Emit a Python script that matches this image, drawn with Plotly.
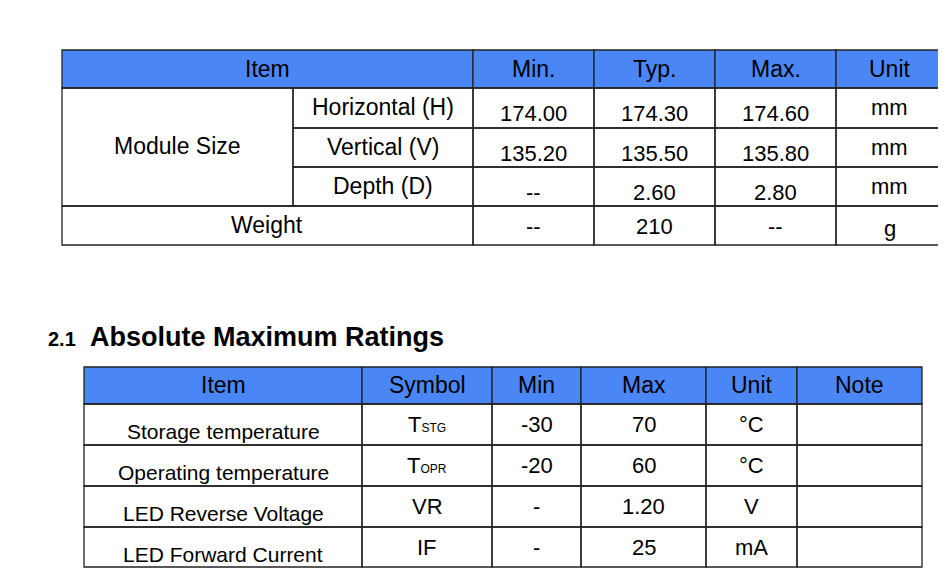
"""Mechanical information and absolute maximum ratings tables."""

import plotly.graph_objects as go

HEADER_BLUE = "#4b86f6"
LINE = "#222222"
FONT = "Liberation Sans, Arial, sans-serif"

# table 1 data
MECH_HEADERS = ["Item", "Min.", "Typ.", "Max.", "Unit"]
MECH_GROUP = "Module Size"
MECH_SUBITEMS = ["Horizontal (H)", "Vertical (V)", "Depth (D)"]
MECH_MIN = ["174.00", "135.20", "--"]
MECH_TYP = ["174.30", "135.50", "2.60"]
MECH_MAX = ["174.60", "135.80", "2.80"]
MECH_UNIT = ["mm", "mm", "mm"]
WEIGHT_ROW = ["Weight", "--", "210", "--", "g"]

# table 2 data
AMR_HEADERS = ["Item", "Symbol", "Min", "Max", "Unit", "Note"]
AMR_ITEMS = ["Storage temperature", "Operating temperature", "LED Reverse Voltage", "LED Forward Current"]
AMR_SYMBOLS = ["T<span style='font-size:12px'>STG</span>", "T<span style='font-size:12px'>OPR</span>", "VR", "IF"]
AMR_MIN = ["-30", "-20", "-", "-"]
AMR_MAX = ["70", "60", "1.20", "25"]
AMR_UNIT = ["°C", "°C", "V", "mA"]
AMR_NOTE = ["", "", "", ""]

shapes = []
annotations = []


def rect(x0, y0, x1, y1, fill=None):
    shapes.append(dict(type="rect", x0=x0, y0=y0, x1=x1, y1=y1, line=dict(color=LINE, width=1.3),
                       fillcolor=fill or "rgba(0,0,0,0)", layer="below"))


def text(x, y, s, size=22, bold=False, anchor="center"):
    annotations.append(dict(x=x, y=y, text=f"<b>{s}</b>" if bold else s, showarrow=False, xanchor=anchor,
                            yanchor="middle", font=dict(family=FONT, size=size, color="black")))


# headings
text(5, 22, "1.5 Mechanical Information", size=22, bold=True, anchor="left")
text(5, 297, "2.0&nbsp;&nbsp;Operation Specifications", size=27, bold=True, anchor="left")
text(46, 339, "2.1", size=20, bold=True, anchor="left")
text(88, 337, "Absolute Maximum Ratings", size=27, bold=True, anchor="left")

# table 1
cols = [62, 473, 594, 715, 836, 943]
rows = [50, 88, 128, 167, 206, 245]
for i in range(5):
    rect(cols[i], rows[0], cols[i + 1], rows[1], HEADER_BLUE)
    text((cols[i] + cols[i + 1]) / 2, 69, MECH_HEADERS[i], size=23)
rect(62, rows[1], 293, rows[4])
text(177, 146, MECH_GROUP, size=23)
for r, label in enumerate(MECH_SUBITEMS):
    y0, y1 = rows[r + 1], rows[r + 2]
    rect(293, y0, 473, y1)
    text(383, y0 + 19, label, size=23)
    for c, vals in enumerate([MECH_MIN, MECH_TYP, MECH_MAX, MECH_UNIT]):
        rect(cols[c + 1], y0, cols[c + 2], y1)
        text((cols[c + 1] + cols[c + 2]) / 2, y0 + (19 if c == 3 else 25), vals[r])
rect(62, rows[4], 473, rows[5])
text(267, 225, WEIGHT_ROW[0], size=23)
for c in range(4):
    rect(cols[c + 1], rows[4], cols[c + 2], rows[5])
    text((cols[c + 1] + cols[c + 2]) / 2, 226 if c < 3 else 228, WEIGHT_ROW[c + 1])

# table 2
cols2 = [84, 362, 492, 581, 706, 797, 922]
rows2 = [367, 404, 445, 486, 527, 567]
for i in range(6):
    rect(cols2[i], rows2[0], cols2[i + 1], rows2[1], HEADER_BLUE)
    text((cols2[i] + cols2[i + 1]) / 2, 385, AMR_HEADERS[i], size=23)
for r in range(4):
    y0, y1 = rows2[r + 1], rows2[r + 2]
    values = [AMR_ITEMS[r], AMR_SYMBOLS[r], AMR_MIN[r], AMR_MAX[r], AMR_UNIT[r], AMR_NOTE[r]]
    for c in range(6):
        rect(cols2[c], y0, cols2[c + 1], y1)
        dy = 27 if c == 0 else 20
        text((cols2[c] + cols2[c + 1]) / 2, y0 + dy, values[c], size=22 if c else 21)

# the page body has an 8px margin, so the figure is shrunk and the ranges shifted by it
fig = go.Figure()
fig.update_layout(
    width=938, height=562, margin=dict(l=0, r=0, t=0, b=0),
    paper_bgcolor="white", plot_bgcolor="white",
    xaxis=dict(range=[8, 946], visible=False, fixedrange=True),
    yaxis=dict(range=[570, 8], visible=False, fixedrange=True),
    shapes=shapes, annotations=annotations, showlegend=False,
)
fig.write_html("out.html")
